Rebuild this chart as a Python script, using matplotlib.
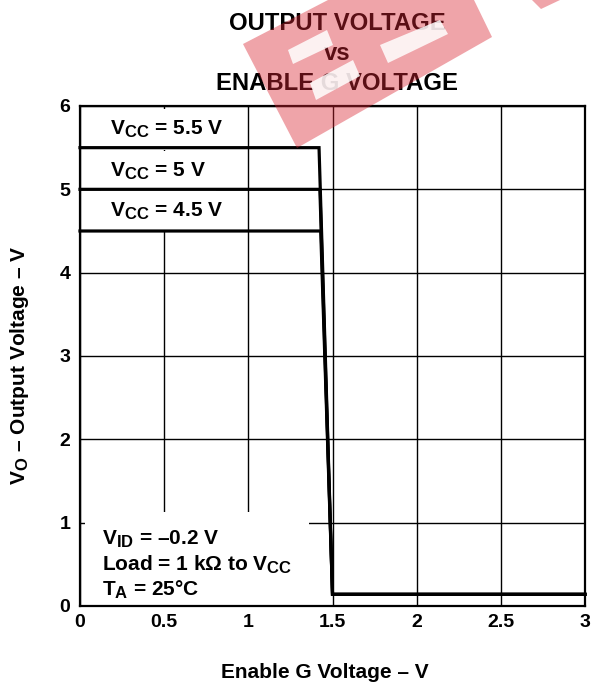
import matplotlib

matplotlib.use("Agg")
import matplotlib.pyplot as plt
import matplotlib._mathtext as mathtext_mod
from matplotlib.patches import Polygon

# the datasheet uses large subscripts
mathtext_mod.SHRINK_FACTOR = 0.8

plt.rcParams["font.family"] = ["Liberation Sans", "DejaVu Sans"]
plt.rcParams["font.weight"] = "bold"
plt.rcParams["mathtext.fontset"] = "custom"
plt.rcParams["mathtext.rm"] = "Liberation Sans:bold"
plt.rcParams["mathtext.it"] = "Liberation Sans:bold"
plt.rcParams["mathtext.bf"] = "Liberation Sans:bold"

# curves: output voltage vs enable G voltage, one per supply
enable_v_55 = [0.0, 1.42, 1.50, 3.0]
vout_55 = [5.5, 5.5, 0.14, 0.14]
enable_v_50 = [0.0, 1.425, 1.50, 3.0]
vout_50 = [5.0, 5.0, 0.14, 0.14]
enable_v_45 = [0.0, 1.43, 1.50, 3.0]
vout_45 = [4.5, 4.5, 0.14, 0.14]

x_ticks = [0, 0.5, 1, 1.5, 2, 2.5, 3]
x_tick_labels = ["0", "0.5", "1", "1.5", "2", "2.5", "3"]
y_ticks = [0, 1, 2, 3, 4, 5, 6]
y_tick_labels = ["0", "1", "2", "3", "4", "5", "6"]

W, H = 592, 684
fig = plt.figure(figsize=(W / 100, H / 100), dpi=100)
ax = fig.add_axes([80 / W, 1 - 606 / H, 505 / W, 500 / H])

ax.set_xlim(0, 3)
ax.set_ylim(0, 6)
ax.set_xticks(x_ticks)
ax.set_xticklabels(x_tick_labels)
ax.set_yticks(y_ticks)
ax.set_yticklabels(y_tick_labels)
ax.tick_params(length=0, labelsize=14)
ax.tick_params(axis="y", pad=7)
ax.tick_params(axis="x", pad=6)
ax.grid(True, color="black", linewidth=1.0, zorder=1)
ax.set_axisbelow(True)
for sp in ax.spines.values():
    sp.set_linewidth(1.6)
    sp.set_zorder(5)

for xs, ys in [(enable_v_55, vout_55), (enable_v_50, vout_50), (enable_v_45, vout_45)]:
    ax.plot(xs, ys, color="black", linewidth=2.3, solid_joinstyle="miter", zorder=4,
            clip_on=False)

box = dict(facecolor="white", edgecolor="none", pad=7)
ax.text(0.18, 5.72, r"V$_{\mathrm{CC}}$ = 5.5 V", fontsize=15, va="center", bbox=box,
        zorder=3, clip_on=True)
ax.text(0.18, 5.22, r"V$_{\mathrm{CC}}$ = 5 V", fontsize=15, va="center", bbox=box,
        zorder=3, clip_on=True)
ax.text(0.18, 4.74, r"V$_{\mathrm{CC}}$ = 4.5 V", fontsize=15, va="center", bbox=box,
        zorder=3, clip_on=True)

ax.text(0.13, 0.93,
        "V$_{\\mathrm{ID}}$ = \u20130.2 V\nLoad = 1 k\u03a9 to V$_{\\mathrm{CC}}$\nT$_{\\mathrm{A}}$ = 25\u00b0C",
        fontsize=15, va="top", ha="left", linespacing=1.2,
        bbox=dict(facecolor="white", edgecolor="none", pad=12), zorder=3, clip_on=True)

fig.text(337 / W, 1 - 30 / H, "OUTPUT VOLTAGE", fontsize=17.2, ha="center", va="baseline")
fig.text(337 / W, 1 - 60 / H, "vs", fontsize=17.2, ha="center", va="baseline")
fig.text(337 / W, 1 - 90 / H, "ENABLE G VOLTAGE", fontsize=17.2, ha="center", va="baseline")

fig.text(325 / W, 1 - 672 / H, "Enable G Voltage \u2013 V", fontsize=15, ha="center", va="center")
fig.text(20 / W, 1 - 365 / H, "V$_{\\mathrm{O}}$ \u2013 Output Voltage \u2013 V", fontsize=15,
         ha="center", va="center", rotation=90)


# red watermark in the top area (pixel coordinates of the figure)
def fig_poly(pts, **kw):
    p = Polygon([(x / W, 1 - y / H) for x, y in pts], closed=True,
                transform=fig.transFigure, linewidth=0, **kw)
    fig.add_artist(p)


red = (0.85, 0.15, 0.2)
fig_poly([(243, 44), (328, 0), (474, 0), (492, 37), (297, 148)], facecolor=red, alpha=0.42, zorder=20)
fig_poly([(532, 0), (560, 0), (541, 9)], facecolor=red, alpha=0.42, zorder=20)
fig_poly([(288, 50), (327, 30), (333, 45), (293, 64)], facecolor="white", alpha=0.85, zorder=21)
fig_poly([(310, 83), (353, 60), (360, 76), (316, 100)], facecolor="white", alpha=0.85, zorder=21)
fig_poly([(380, 45), (440, 20), (448, 34), (388, 63)], facecolor="white", alpha=0.85, zorder=21)

fig.savefig("out.png", dpi=100)
